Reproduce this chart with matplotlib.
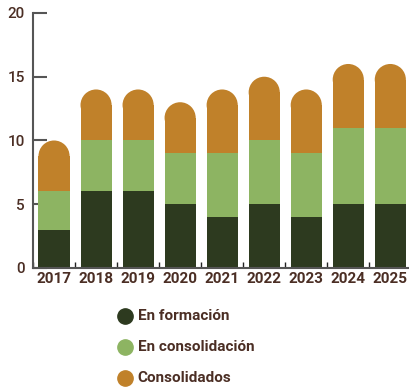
import matplotlib
matplotlib.use("Agg")
import matplotlib.pyplot as plt
from matplotlib.patches import Ellipse
from matplotlib.lines import Line2D
import numpy as np

years = ["2017", "2018", "2019", "2020", "2021", "2022", "2023", "2024", "2025"]
en_formacion = [3, 6, 6, 5, 4, 5, 4, 5, 5]
en_consolidacion = [3, 4, 4, 4, 5, 5, 5, 6, 6]
consolidados = [4, 4, 4, 4, 5, 5, 5, 5, 5]
series_names = ["En formación", "En consolidación", "Consolidados"]

c_dark = "#2d3a1f"
c_green = "#8db462"
c_orange = "#c0812a"
txt = "#4b2e24"
axis_col = "#555555"

plt.rcParams["font.family"] = ["Roboto", "DejaVu Sans"]

fig = plt.figure(figsize=(4.09, 3.87), dpi=100)
ax = fig.add_axes([0.0807, 0.3075, 0.925, 0.659])

x = np.arange(len(years))
w = 0.74
f = np.array(en_formacion)
g = np.array(en_consolidacion)
o = np.array(consolidados)

ax.set_xlim(-0.5, len(years) - 0.5)
ax.set_ylim(0, 20)

# rounded cap: half-width in x units -> same pixel radius in y units
bbox = ax.get_position()
fig_w, fig_h = fig.get_size_inches() * fig.dpi
px_per_x = bbox.width * fig_w / len(years)
px_per_y = bbox.height * fig_h / 20
ry = (w / 2) * px_per_x / px_per_y

ax.bar(x, f, w, color=c_dark, zorder=2)
ax.bar(x, g, w, bottom=f, color=c_green, zorder=2)
ax.bar(x, o - ry, w, bottom=f + g, color=c_orange, zorder=2)
for xi, top in zip(x, f + g + o):
    ax.add_patch(Ellipse((xi, top - ry), w, 2 * ry, color=c_orange, zorder=2, lw=0))

for s in ["top", "right"]:
    ax.spines[s].set_visible(False)
ax.spines["left"].set_color(axis_col)
ax.spines["bottom"].set_color(axis_col)
ax.spines["left"].set_linewidth(1.5)
ax.spines["bottom"].set_linewidth(1.5)

ax.set_yticks([0, 5, 10, 15, 20])
ax.tick_params(axis="y", direction="in", length=10, width=1.5, color=axis_col,
               labelsize=11, labelcolor=txt, pad=6)
ax.set_xticks(x)
ax.set_xticklabels(years)
ax.set_xticks(np.arange(len(years) + 1) - 0.5, minor=True)
ax.tick_params(axis="x", which="major", length=0, labelsize=11, labelcolor=txt, pad=3)
ax.tick_params(axis="x", which="minor", direction="in", length=4, width=1, color="#222222")
for lab in ax.get_xticklabels():
    lab.set_fontweight("bold")
for lab in ax.get_yticklabels():
    lab.set_fontweight("medium")

# legend
leg_y = [0.183, 0.103, 0.023]
for name, col, yy in zip(series_names, [c_dark, c_green, c_orange], leg_y):
    fig.lines.append(Line2D([0.305], [yy], marker="o", markersize=11, color=col,
                            transform=fig.transFigure, linestyle=""))
    fig.text(0.337, yy, name, color=txt, fontsize=11, fontweight="bold",
             va="center", ha="left")

fig.savefig("out.png", dpi=100)
